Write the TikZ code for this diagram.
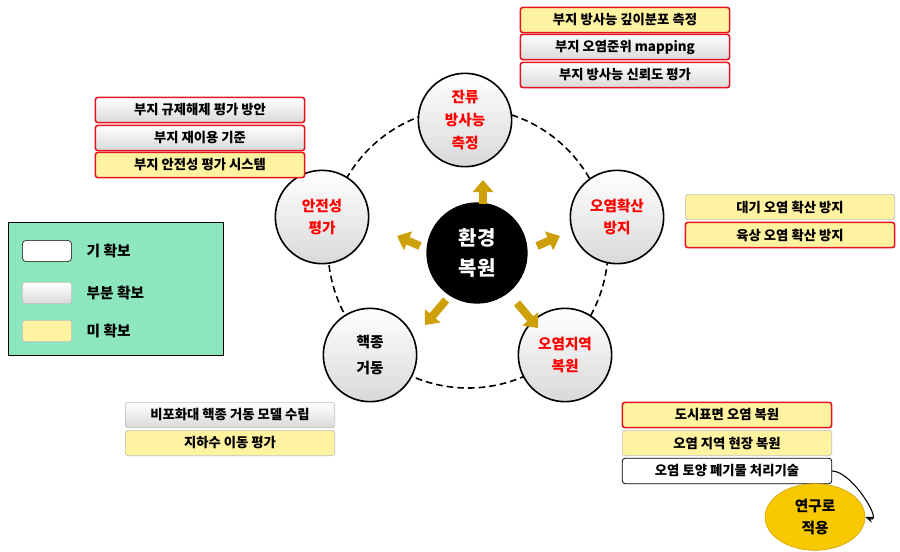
\documentclass[tikz,border=0pt]{standalone}
\usepackage{fontspec}
\setmainfont{Noto Sans CJK KR}
\usetikzlibrary{arrows.meta,shapes.geometric}
\definecolor{boxred}{RGB}{230,20,30}
\definecolor{boxyel}{RGB}{255,242,160}
\definecolor{legendgreen}{RGB}{140,230,190}
\definecolor{goldarrow}{RGB}{205,160,10}
\definecolor{goldfill}{RGB}{248,200,0}
\tikzset{
  item/.style={rounded corners=2pt,minimum width=157pt,minimum height=19pt,inner sep=0pt,font=\fontsize{10}{11}\selectfont\bfseries},
  redline/.style={draw=boxred,line width=1.2pt},
  greyline/.style={draw=gray!50,line width=0.5pt},
  yelbox/.style={item,fill=boxyel},
  greybox/.style={item,top color=white,bottom color=gray!30},
  whitebox/.style={item,fill=white,draw=black,line width=0.6pt},
  topic/.style={circle,draw=black,line width=1.2pt,minimum size=70pt,top color=white,bottom color=gray!30,align=center,font=\fontsize{11}{17}\selectfont\bfseries,text=red},
  goarrow/.style={line width=6pt,draw=goldarrow,-{Triangle[width=15pt,length=9pt]}},
}
\begin{document}
\begin{tikzpicture}[x=0.75pt,y=0.75pt,yscale=-1]
  \useasboundingbox (0,0) rectangle (900,551);
  % outer ring
  \draw [dashed,line width=1.2pt,dash pattern=on 5pt off 3pt] (468,248) circle (140);

  % topics
  \node (res) [topic] at (465,120) {잔류\\방사능\\측정};
  \node (spr) [topic] at (617,217) {오염확산\\방지};
  \node (rst) [topic] at (565,355) {오염지역\\복원};
  \node (nuc) [topic,text=black,font=\fontsize{11}{20}\selectfont\bfseries] at (370,355) {핵종\\거동};
  \node (saf) [topic] at (322,217) {안전성\\평가};
  \node (env) [circle,fill=black,minimum size=76pt,align=center,text=white,font=\fontsize{15}{22}\selectfont\bfseries] at (477,253) {환경\\복원};

  % arrows from centre
  \draw [goarrow] (483,204) -- (483,180);
  \draw [goarrow] (537,246) -- (560,236);
  \draw [goarrow] (420,246) -- (397,236);
  \draw [goarrow] (446,300) -- (425,325);
  \draw [goarrow] (517,303) -- (538,328);

  % top right list
  \node (r1) [yelbox,redline] at (625,20) {부지 방사능 깊이분포 측정};
  \node (r2) [greybox,redline] at (625,47) {부지 오염준위 mapping};
  \node (r3) [greybox,redline] at (625,75) {부지 방사능 신뢰도 평가};

  % top left list
  \node (s1) [greybox,redline] at (200,110) {부지 규제해제 평가 방안};
  \node (s2) [greybox,redline] at (200,138) {부지 재이용 기준};
  \node (s3) [yelbox,redline] at (200,165) {부지 안전성 평가 시스템};

  % right list
  \node (p1) [yelbox,greyline] at (790,207) {대기 오염 확산 방지};
  \node (p2) [yelbox,redline] at (790,235) {육상 오염 확산 방지};

  % bottom left list
  \node (n1) [greybox,greyline] at (230,415) {비포화대 핵종 거동 모델 수립};
  \node (n2) [yelbox,greyline] at (230,443) {지하수 이동 평가};

  % bottom right list
  \node (t1) [yelbox,redline] at (727,415) {도시표면 오염 복원};
  \node (t2) [yelbox,greyline] at (727,443) {오염 지역 현장 복원};
  \node (t3) [whitebox] at (727,471) {오염 토양 폐기물 처리기술};

  \node (app) [ellipse,draw=goldarrow,fill=goldfill,minimum width=75pt,minimum height=50pt,inner sep=0pt,align=center,font=\fontsize{11}{17}\selectfont\bfseries] at (815,517) {연구로\\적용};
  \draw [-{Stealth[length=6pt]},line width=0.8pt] (t3.east) to[out=0,in=20,looseness=0.9] (app.east);

  % legend
  \node (leg) [draw=black,fill=legendgreen,minimum width=161pt,minimum height=100pt,anchor=north west,inner sep=0pt] at (8,222) {};
  \node (l1) [draw=black,fill=white,rounded corners=3pt,minimum width=37pt,minimum height=16pt] at (47,251) {};
  \node (l2) [greybox,greyline,minimum width=37pt,minimum height=16pt] at (47,293) {};
  \node (l3) [yelbox,greyline,minimum width=37pt,minimum height=16pt] at (47,331) {};
  \node (t-l1) [anchor=west,font=\fontsize{11}{12}\selectfont\bfseries] at (82,251) {기 확보};
  \node (t-l2) [anchor=west,font=\fontsize{11}{12}\selectfont\bfseries] at (82,293) {부분 확보};
  \node (t-l3) [anchor=west,font=\fontsize{11}{12}\selectfont\bfseries] at (82,331) {미 확보};
\end{tikzpicture}
\end{document}
